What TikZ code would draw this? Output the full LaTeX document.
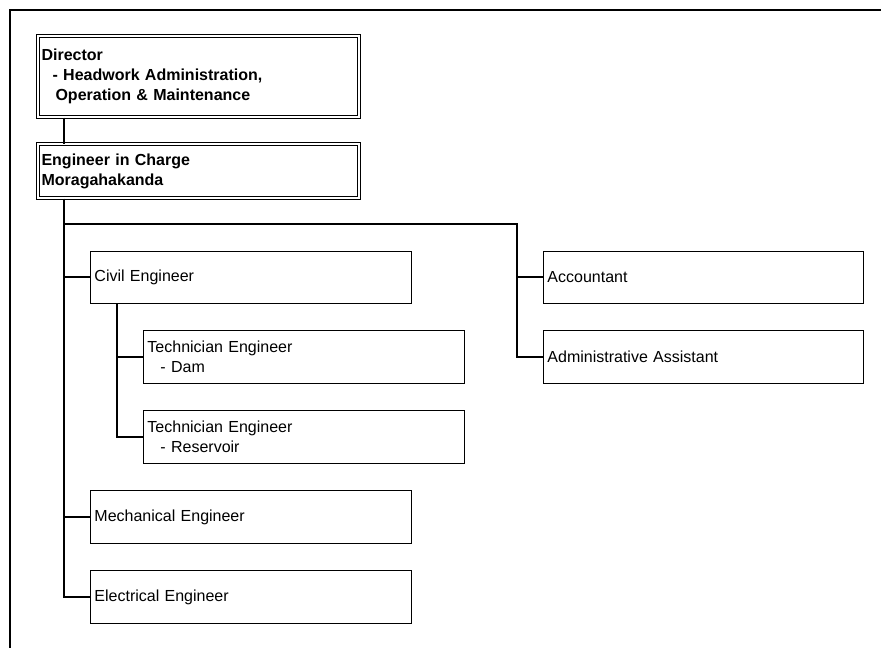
\documentclass[tikz,border=0pt]{standalone}
\usepackage{fontspec}
\setmainfont{Liberation Sans}
\begin{document}
\begin{tikzpicture}[x=1pt,y=-1pt,
  box/.style={draw=black, line width=0.9pt, rectangle, inner xsep=4pt, inner ysep=0pt,
    align=left, anchor=north west, font=\fontsize{16}{20}\selectfont},
  dbox/.style={draw=black, line width=1.1pt, double=white, double distance=1.9pt, rectangle,
    inner xsep=3.5pt, inner ysep=0pt, align=left, anchor=north west,
    font=\fontsize{16}{20}\selectfont\bfseries},
  conn/.style={draw=black, line width=2pt}]
\useasboundingbox (0,0) rectangle (881,648);
\draw[line width=2pt] (10,649) -- (10,10) -- (882,10);

\node[dbox, minimum width=320.5pt, minimum height=81pt, text width=313.5pt] (dir) at (37.5,35.5)
  {Director\\\hspace*{11pt}- Headwork Administration,\\\hspace*{14pt}Operation \& Maintenance};
\node[dbox, minimum width=320.5pt, minimum height=54pt, text width=313.5pt] (eic) at (37.5,143.5)
  {Engineer in Charge\\Moragahakanda};

\node[box, minimum width=321pt, minimum height=52pt, text width=313pt] (civ) at (90,251) {Civil Engineer};
\node[box, minimum width=321pt, minimum height=53pt, text width=313pt] (dam) at (143,330)
  {Technician Engineer\\\hspace*{13pt}- Dam};
\node[box, minimum width=321pt, minimum height=53pt, text width=313pt] (res) at (143,410)
  {Technician Engineer\\\hspace*{13pt}- Reservoir};
\node[box, minimum width=321pt, minimum height=53pt, text width=313pt] (mec) at (90,490) {Mechanical Engineer};
\node[box, minimum width=321pt, minimum height=53pt, text width=313pt] (ele) at (90,570) {Electrical Engineer};
\node[box, minimum width=320pt, minimum height=52pt, text width=312pt] (acc) at (543,251) {Accountant};
\node[box, minimum width=320pt, minimum height=53pt, text width=312pt] (adm) at (543,330) {Administrative Assistant};

% connectors
\coordinate (dk) at ([xshift=26.5pt]dir.south west);
\coordinate (tk) at ([xshift=26.5pt]eic.south west);
\draw[conn] (dk) -- (dk |- eic.north);
\draw[conn] (tk) |- (ele.west);
\coordinate (j1) at (tk |- 0,224);
\coordinate (rk) at (517,224);
\draw[conn] (j1) -- (rk) |- (adm.west);
\draw[conn] (acc.west -| rk) -- (acc.west);
\draw[conn] (civ.west -| tk) -- (civ.west);
\draw[conn] (mec.west -| tk) -- (mec.west);
\coordinate (ck) at ([xshift=27pt]civ.south west);
\draw[conn] (ck) |- (res.west);
\draw[conn] (dam.west -| ck) -- (dam.west);
\end{tikzpicture}
\end{document}
